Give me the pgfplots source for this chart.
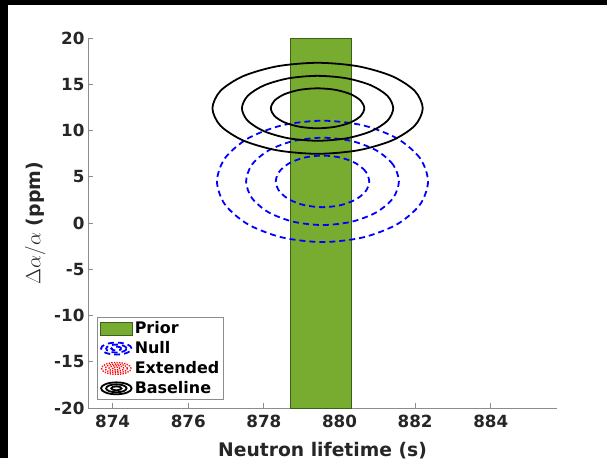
\documentclass[border=0pt]{standalone}
\usepackage{pgfplots}
\pgfplotsset{compat=1.18}
\usepackage{fontspec}
\setmainfont{DejaVu Sans}
\definecolor{prior}{RGB}{119,172,48}
\definecolor{prioredge}{RGB}{60,95,25}
\definecolor{txt}{RGB}{38,38,38}
\pgfplotsset{
    priorimg/.style={legend image code/.code={
        \draw[##1] (0cm,-0.22cm) rectangle (1.15cm,0.22cm);}},
    contourimg/.style={legend image code/.code={
        \draw[##1] (0.58cm,0cm) ellipse (0.54cm and 0.21cm);
        \draw[##1] (0.58cm,0cm) ellipse (0.36cm and 0.14cm);
        \draw[##1] (0.58cm,0cm) ellipse (0.18cm and 0.07cm);}},
    extimg/.style={legend image code/.code={
        \draw[##1] (0.58cm,0cm) ellipse (0.52cm and 0.21cm);
        \draw[##1] (0.58cm,0cm) ellipse (0.39cm and 0.155cm);
        \draw[##1] (0.58cm,0cm) ellipse (0.26cm and 0.1cm);
        \draw[##1] (0.58cm,0cm) ellipse (0.13cm and 0.05cm);}},
    nullline/.style={blue, line width=1.8pt, dash pattern=on 6bp off 4bp, smooth cycle},
    baseline/.style={black, line width=1.8pt, smooth cycle},
}
\begin{document}
\begin{tikzpicture}
\begin{axis}[
    at={(0,0)}, anchor=south west,
    scale only axis,
    width=469bp, height=370bp,
    xmin=873.35, xmax=885.75,
    ymin=-20, ymax=20,
    xtick={874,876,878,880,882,884},
    ytick={-20,-15,-10,-5,0,5,10,15,20},
    axis x line=bottom, axis y line=left,
    axis line style={-, black!45, line width=0.8pt},
    tick align=inside,
    major tick length=5bp,
    tick style={black!45, line width=0.8pt},
    /pgf/number format/assume math mode=true,
    /pgf/number format/1000 sep={},
    ticklabel style={font=\fontsize{16.8}{19}\selectfont\bfseries, text=txt},
    xticklabel style={yshift=-4bp},
    xlabel={Neutron lifetime (s)},
    ylabel={{\fontsize{21}{24}\selectfont$\Delta\alpha/\alpha$} {\fontsize{19}{22}\selectfont(ppm)}},
    label style={font=\fontsize{18.8}{22}\selectfont\bfseries, text=txt},
    xlabel style={yshift=-7bp},
    ylabel style={yshift=2bp},
    legend style={at={(0.0186,0.0216)}, anchor=south west,
        draw=black!45, fill=white, line width=0.8pt,
        font=\fontsize{16}{18}\selectfont\bfseries,
        inner xsep=2.5pt, inner ysep=2.5pt, row sep=2.3pt},
    legend cell align=left,
    clip=true,
]
% prior band
\addplot[fill=prior, draw=prioredge, line width=0.6pt, priorimg]
    coordinates {(878.70,-20) (880.30,-20) (880.30,20) (878.70,20)} -- cycle;
\addlegendentry{Prior}

% Null contours
\addplot[nullline, contourimg]
    coordinates {(882.340,4.500) (882.128,7.010) (881.523,9.139) (880.618,10.561)
    (879.550,11.060) (878.482,10.561) (877.577,9.139) (876.972,7.010)
    (876.760,4.500) (876.972,1.990) (877.577,-0.139) (878.482,-1.561)
    (879.550,-2.060) (880.618,-1.561) (881.523,-0.139) (882.128,1.990)};
\addlegendentry{Null}
\addplot[nullline, forget plot]
    coordinates {(881.570,4.500) (881.416,6.306) (880.978,7.838) (880.323,8.861)
    (879.550,9.220) (878.777,8.861) (878.122,7.838) (877.684,6.306)
    (877.530,4.500) (877.684,2.694) (878.122,1.162) (878.777,0.139)
    (879.550,-0.220) (880.323,0.139) (880.978,1.162) (881.416,2.694)};
\addplot[nullline, forget plot]
    coordinates {(880.785,4.500) (880.691,5.568) (880.423,6.473) (880.023,7.078)
    (879.550,7.290) (879.077,7.078) (878.677,6.473) (878.409,5.568)
    (878.315,4.500) (878.409,3.432) (878.677,2.527) (879.077,1.922)
    (879.550,1.710) (880.023,1.922) (880.423,2.527) (880.691,3.432)};

% Extended (legend only)
\addlegendimage{red, line width=1.3pt, dash pattern=on 1.3pt off 1.3pt, extimg}
\addlegendentry{Extended}

% Baseline contours
\addplot[baseline, contourimg]
    coordinates {(882.200,12.400) (881.988,14.283) (881.386,15.879) (880.484,16.946)
    (879.420,17.320) (878.356,16.946) (877.454,15.879) (876.852,14.283)
    (876.640,12.400) (876.852,10.517) (877.454,8.921) (878.356,7.854)
    (879.420,7.480) (880.484,7.854) (881.386,8.921) (881.988,10.517)};
\addlegendentry{Baseline}
\addplot[baseline, forget plot]
    coordinates {(881.420,12.400) (881.268,13.743) (880.834,14.882) (880.185,15.643)
    (879.420,15.910) (878.655,15.643) (878.006,14.882) (877.572,13.743)
    (877.420,12.400) (877.572,11.057) (878.006,9.918) (878.655,9.157)
    (879.420,8.890) (880.185,9.157) (880.834,9.918) (881.268,11.057)};
\addplot[baseline, forget plot]
    coordinates {(880.655,12.400) (880.561,13.227) (880.293,13.927) (879.893,14.396)
    (879.420,14.560) (878.947,14.396) (878.547,13.927) (878.279,13.227)
    (878.185,12.400) (878.279,11.573) (878.547,10.873) (878.947,10.404)
    (879.420,10.240) (879.893,10.404) (880.293,10.873) (880.561,11.573)};
\end{axis}
% frame of the screenshot: black strips at top and left
\fill[black] (-88bp,403bp) rectangle (519bp,408bp);
\fill[black] (-88bp,-50bp) rectangle (-80bp,408bp);
\path[use as bounding box] (-88bp,-50bp) rectangle (519bp,408bp);
\end{tikzpicture}
\end{document}
